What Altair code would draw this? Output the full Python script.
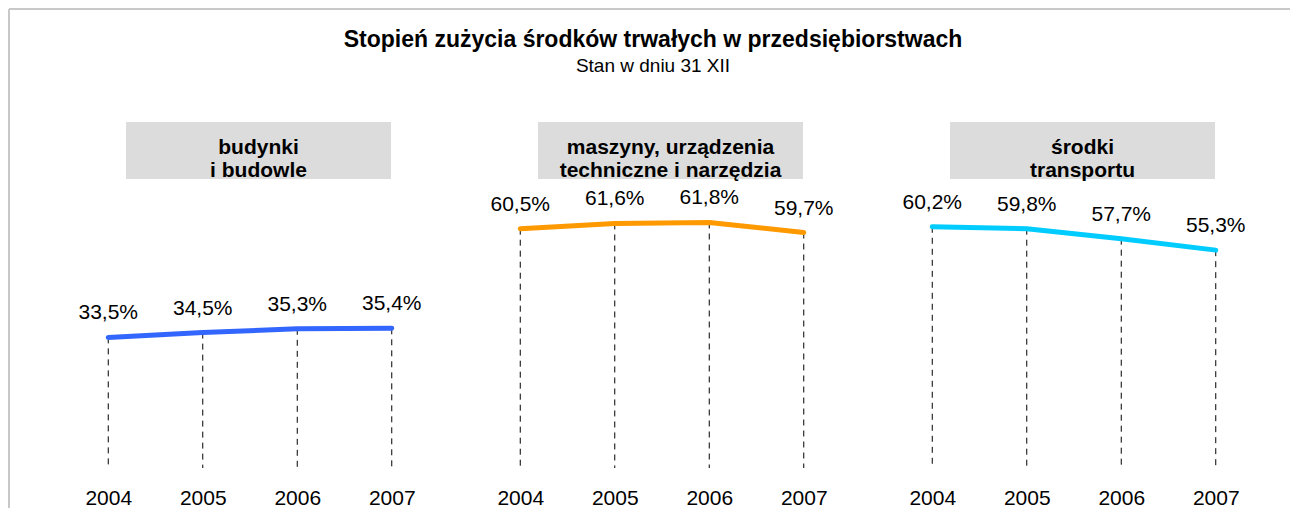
import altair as alt
import pandas as pd

# ---- data ----
years = ["2004", "2005", "2006", "2007"]
budynki = [33.5, 34.5, 35.3, 35.4]
maszyny = [60.5, 61.6, 61.8, 59.7]
transport = [60.2, 59.8, 57.7, 55.3]
series = [budynki, maszyny, transport]
panel_labels = [
    "budynki\ni budowle",
    "maszyny, urządzenia\ntechniczne i narzędzia",
    "środki\ntransportu",
]
title_text = "Stopień zużycia środków trwałych w przedsiębiorstwach"
subtitle_text = "Stan w dniu 31 XII"

# ---- style ----
colors = ["#3366ff", "#ff9900", "#00ccff"]
y_domains = [[6.1, 79.1], [10.3, 83.3], [9.6, 82.6]]
W, H = 378, 348
FONT = "Liberation Sans"


def fmt(v):
    return f"{v:.1f}".replace(".", ",") + "%"


def panel(i):
    vals = series[i]
    df = pd.DataFrame({"rok": years, "wartosc": vals, "etykieta": [fmt(v) for v in vals]})
    x = alt.X(
        "rok:O",
        scale=alt.Scale(type="point", padding=0.5),
        axis=alt.Axis(title=None, domain=False, ticks=False, grid=False, labelAngle=0,
                      labelFontSize=21, labelPadding=19, labelColor="black", labelFont=FONT),
    )
    y = alt.Y("wartosc:Q", scale=alt.Scale(domain=y_domains[i], zero=False, nice=False), axis=None)
    base = alt.Chart(df).encode(x=x)
    drop = base.mark_rule(color="black", strokeWidth=1, strokeDash=[6, 5]).encode(y=y, y2=alt.value(H))
    line = base.mark_line(color=colors[i], strokeWidth=5, strokeCap="round", strokeJoin="round").encode(y=y)
    text = base.mark_text(dy=-24, fontSize=21, color="black", font=FONT).encode(y=y, text="etykieta:N")
    lab = pd.DataFrame({"t": [panel_labels[i]]})
    box = alt.Chart(lab).mark_rect(color="#dcdcdc").encode(
        x=alt.value(65), x2=alt.value(330), y=alt.value(2), y2=alt.value(59))
    boxtext = alt.Chart(lab).mark_text(fontWeight="bold", fontSize=21, lineBreak="\n", lineHeight=23,
                                       baseline="middle", color="black", font=FONT).encode(
        x=alt.value(197.5), y=alt.value(28), text="t:N")
    layers = [box, boxtext, drop, line, text]
    if i == 0:
        tdf = pd.DataFrame({"t": [title_text], "s": [subtitle_text]})
        border_top = alt.Chart(tdf).mark_rule(color="#c8c8c8", strokeWidth=2).encode(
            x=alt.value(-52), x2=alt.value(1229), y=alt.value(-111))
        border_left = alt.Chart(tdf).mark_rule(color="#c8c8c8", strokeWidth=2).encode(
            x=alt.value(-52), y=alt.value(-111), y2=alt.value(388))
        t1 = alt.Chart(tdf).mark_text(fontWeight="bold", fontSize=23, color="black", font=FONT,
                                      baseline="middle").encode(x=alt.value(592), y=alt.value(-80), text="t:N")
        t2 = alt.Chart(tdf).mark_text(fontSize=19, color="black", font=FONT,
                                      baseline="middle").encode(x=alt.value(592), y=alt.value(-54), text="s:N")
        layers = [border_top, border_left, t1, t2] + layers
    return alt.layer(*layers).properties(width=W, height=H)


chart = alt.hconcat(panel(0), panel(1), panel(2), spacing=34, bounds="flush").properties(
    padding={"left": 0, "top": 0, "right": 0, "bottom": 0}
).configure(font=FONT).configure_view(strokeWidth=0)

chart.save("out.html", embed_options={"renderer": "svg", "actions": False})
